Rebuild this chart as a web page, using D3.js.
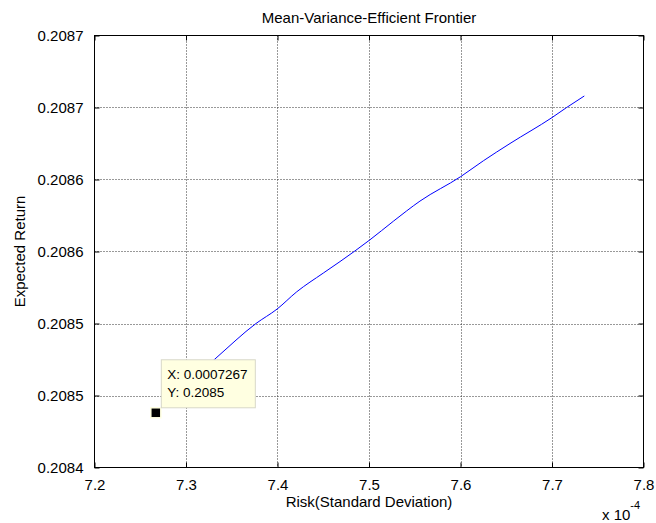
<!DOCTYPE html>
<html>
<head>
<meta charset="utf-8">
<script src="https://cdn.jsdelivr.net/npm/d3@7"></script>
<style>
  body { margin: 0; background: #fff; }
  text { font-family: "Liberation Sans", Arial, sans-serif; fill: #000; }
</style>
</head>
<body>
<div id="chart"></div>
<script>
// frontier points
const risk = [0.00072667, 0.00073328, 0.00073765, 0.00073995, 0.0007421, 0.0007450,
  0.00074683, 0.00075008, 0.00075266, 0.00075557, 0.00076002, 0.0007625,
  0.00076541, 0.00077, 0.0007716, 0.00077353];
const expReturn = [0.208438, 0.208476, 0.208500, 0.208510, 0.208522, 0.208535,
  0.208543, 0.208558, 0.208571, 0.208585, 0.208602, 0.208613,
  0.208625, 0.208643, 0.208650, 0.208658];

const xTicks = [0.00072, 0.00073, 0.00074, 0.00075, 0.00076, 0.00077, 0.00078];
const yTicks = [0.20840, 0.20845, 0.20850, 0.20855, 0.20860, 0.20865, 0.20870];
const yTickLabels = ['0.2084', '0.2085', '0.2085', '0.2086', '0.2086', '0.2087', '0.2087'];

const tipPoint = { x: 0.0007267, y: 0.208438 };
const tipLines = ['X: 0.0007267', 'Y: 0.2085'];

const width = 656, height = 523;
const m = { left: 94.5, right: 643.5, top: 35.5, bottom: 467.5 };

const svg = d3.select('#chart').append('svg')
    .attr('width', width)
    .attr('height', height);

const x = d3.scaleLinear().domain([0.00072, 0.00078]).range([m.left, m.right]);
const y = d3.scaleLinear().domain([0.2084, 0.2087]).range([m.bottom, m.top]);

// grid
const grid = svg.append('g')
    .attr('stroke', '#333')
    .attr('stroke-dasharray', '1,2')
    .attr('stroke-width', 1);
grid.selectAll('.vg').data(xTicks.slice(1, -1)).enter().append('line')
    .attr('x1', d => Math.round(x(d)) + 0.5).attr('x2', d => Math.round(x(d)) + 0.5)
    .attr('y1', m.top).attr('y2', m.bottom);
grid.selectAll('.hg').data(yTicks.slice(1, -1)).enter().append('line')
    .attr('y1', d => Math.round(y(d)) + 0.5).attr('y2', d => Math.round(y(d)) + 0.5)
    .attr('x1', m.left).attr('x2', m.right);

// axes (ticks inward, on all four sides)
const tk = 5;
const fmtX = d => d3.format('.1f')(d * 1e4);
const bottomAxis = d3.axisBottom(x).tickValues(xTicks).tickSize(-tk).tickPadding(12).tickFormat(fmtX);
const topAxis = d3.axisTop(x).tickValues(xTicks).tickSize(-tk).tickFormat('');
const leftAxis = d3.axisLeft(y).tickValues(yTicks).tickSize(-tk).tickPadding(11)
    .tickFormat((d, i) => yTickLabels[i]);
const rightAxis = d3.axisRight(y).tickValues(yTicks).tickSize(-tk).tickFormat('');

function styleAxis(g) {
    g.select('.domain').attr('stroke', '#000');
    g.selectAll('.tick line').attr('stroke', '#000');
    g.selectAll('.tick text').attr('font-size', 15).attr('font-family', '"Liberation Sans", Arial, sans-serif');
}

svg.append('g').attr('transform', `translate(0,${m.bottom})`).call(bottomAxis).call(styleAxis);
svg.append('g').attr('transform', `translate(0,${m.top})`).call(topAxis).call(styleAxis);
svg.append('g').attr('transform', `translate(${m.left},0)`).call(leftAxis).call(styleAxis);
svg.append('g').attr('transform', `translate(${m.right},0)`).call(rightAxis).call(styleAxis);

svg.selectAll('.domain').attr('d', null);
svg.append('rect')
    .attr('x', m.left).attr('y', m.top)
    .attr('width', m.right - m.left).attr('height', m.bottom - m.top)
    .attr('fill', 'none').attr('stroke', '#000');

// frontier line
const pts = risk.map((r, i) => [r, expReturn[i]]);
svg.append('path')
    .datum(pts)
    .attr('fill', 'none')
    .attr('stroke', '#0000ff')
    .attr('stroke-width', 1)
    .attr('d', d3.line().curve(d3.curveMonotoneX).x(d => x(d[0])).y(d => y(d[1])));

// data tip marker
const mx = x(tipPoint.x), my = y(tipPoint.y);
svg.append('rect')
    .attr('x', mx - 5).attr('y', my - 5)
    .attr('width', 10).attr('height', 10)
    .attr('fill', '#000')
    .attr('stroke', '#ffffe1').attr('stroke-width', 1.5);

// data tip box
const tip = svg.append('g').attr('transform', `translate(${mx + 5},${my - 53.5})`);
tip.append('rect')
    .attr('x', 0.5).attr('y', 0.5)
    .attr('width', 94).attr('height', 48)
    .attr('fill', '#ffffe1')
    .attr('stroke', '#d8d8c8');
tip.selectAll('text').data(tipLines).enter().append('text')
    .attr('x', 6.5)
    .attr('y', (d, i) => 20 + i * 17.5)
    .attr('font-size', 13.5)
    .text(d => d);

// titles
svg.append('text')
    .attr('x', (m.left + m.right) / 2).attr('y', 23)
    .attr('text-anchor', 'middle').attr('font-size', 15)
    .text('Mean-Variance-Efficient Frontier');
svg.append('text')
    .attr('x', (m.left + m.right) / 2).attr('y', 507)
    .attr('text-anchor', 'middle').attr('font-size', 15)
    .text('Risk(Standard Deviation)');
svg.append('text')
    .attr('transform', `translate(25,${(m.top + m.bottom) / 2}) rotate(-90)`)
    .attr('text-anchor', 'middle').attr('font-size', 15)
    .text('Expected Return');

// exponent label
const ex = svg.append('text').attr('x', 602).attr('y', 520).attr('font-size', 15);
ex.append('tspan').text('x 10');
ex.append('tspan').attr('dy', -11).attr('font-size', 11).text('-4');
</script>
</body>
</html>
